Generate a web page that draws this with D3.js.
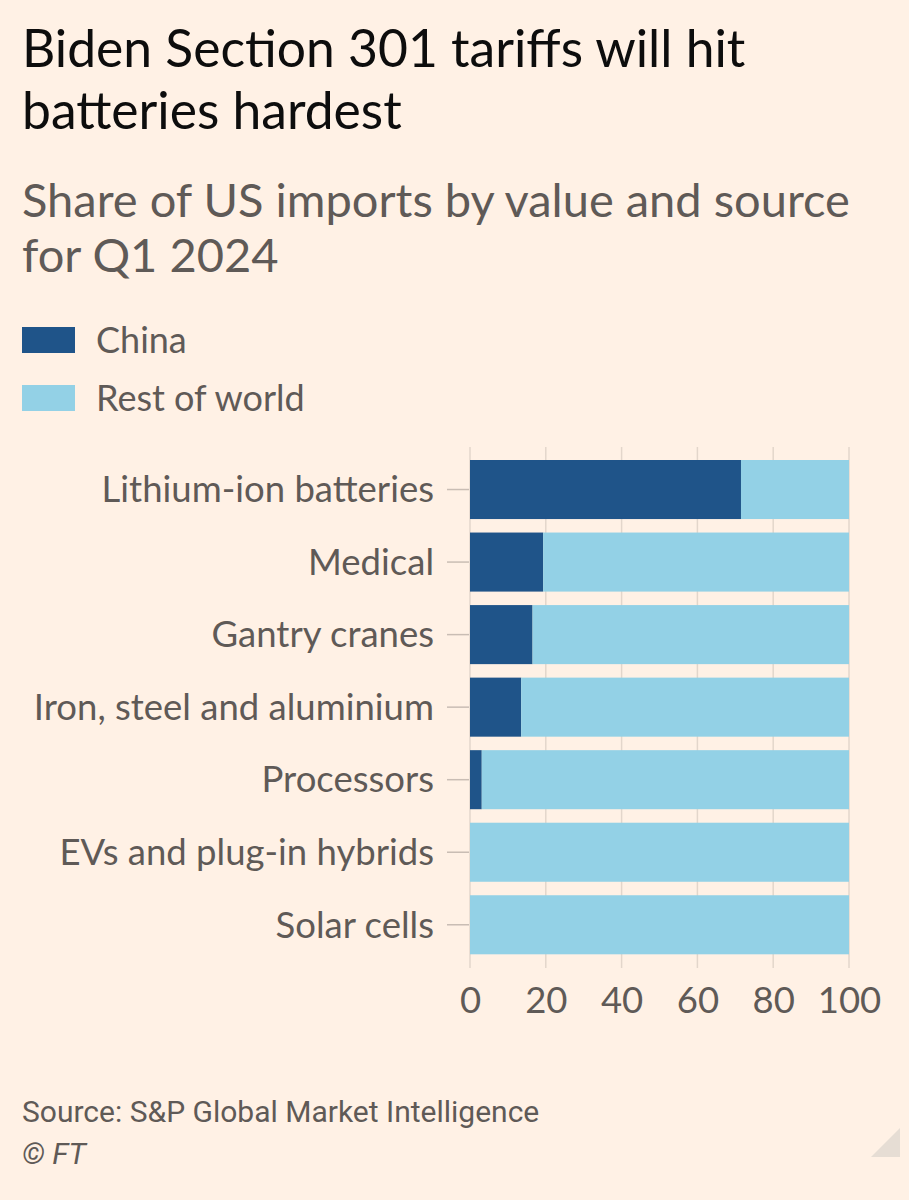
<!DOCTYPE html>
<html>
<head>
<meta charset="utf-8">
<script src="https://cdn.jsdelivr.net/npm/d3@7"></script>
<style>
  html, body { margin: 0; padding: 0; background: #fff1e5; }
  svg { display: block; }
</style>
</head>
<body>
<svg id="chart" width="909" height="1200"></svg>
<script>
const categories = ["Lithium-ion batteries", "Medical", "Gantry cranes", "Iron, steel and aluminium", "Processors", "EVs and plug-in hybrids", "Solar cells"];
const chinaShare = [71.5, 19.3, 16.5, 13.5, 3.1, 0, 0];
const restOfWorldShare = chinaShare.map(v => 100 - v);
const seriesNames = ["China", "Rest of world"];
const seriesColors = ["#1f5489", "#93d1e6"];
const xTicks = [0, 20, 40, 60, 80, 100];

const svg = d3.select("#chart");
const font = "Lato, 'Open Sans', sans-serif";

svg.append("rect").attr("width", 909).attr("height", 1200).attr("fill", "#fff1e5");

// Title
svg.append("text").attr("x", 22).attr("y", 67).attr("font-family", font).attr("font-size", 51.6).attr("fill", "#0d0d0d").text("Biden Section 301 tariffs will hit");
svg.append("text").attr("x", 22).attr("y", 129).attr("font-family", font).attr("font-size", 51.6).attr("fill", "#0d0d0d").text("batteries hardest");

// Subtitle
svg.append("text").attr("x", 22).attr("y", 217).attr("font-family", font).attr("font-size", 47).attr("fill", "#5f5a57").text("Share of US imports by value and source");
svg.append("text").attr("x", 22).attr("y", 272).attr("font-family", font).attr("font-size", 47).attr("fill", "#5f5a57").text("for Q1 2024");

// Legend
const legend = svg.append("g");
seriesNames.forEach((name, i) => {
  const y0 = 327 + i * 58;
  legend.append("rect").attr("x", 22).attr("y", y0).attr("width", 53).attr("height", 26).attr("fill", seriesColors[i]);
  legend.append("text").attr("x", 96).attr("y", y0 + 26).attr("font-family", font).attr("font-size", 36).attr("fill", "#5f5a57").text(name);
});

// Scales
const x = d3.scaleLinear().domain([0, 100]).range([470, 849]);
const y = d3.scaleBand().domain(categories).range([460, 954.3]).paddingInner(0.186).paddingOuter(0);

// Gridlines
svg.append("g").selectAll("line").data(xTicks).join("line")
  .attr("x1", d => x(d)).attr("x2", d => x(d))
  .attr("y1", 447).attr("y2", 968)
  .attr("stroke", "#e3d6cb").attr("stroke-width", 1.5);

// Bars
const stacked = categories.map((c, i) => ({ cat: c, vals: [chinaShare[i], restOfWorldShare[i]] }));
const barG = svg.append("g");
stacked.forEach(d => {
  let acc = 0;
  d.vals.forEach((v, j) => {
    if (v > 0) {
      barG.append("rect")
        .attr("x", x(acc)).attr("width", x(acc + v) - x(acc))
        .attr("y", y(d.cat)).attr("height", y.bandwidth())
        .attr("fill", seriesColors[j]);
    }
    acc += v;
  });
});

// Y axis
const yAxis = d3.axisLeft(y).tickSize(22).tickPadding(13);
const yg = svg.append("g").attr("transform", "translate(469,0)").call(yAxis);
yg.select(".domain").remove();
yg.selectAll(".tick line").attr("stroke", "#c9bdb4").attr("stroke-width", 1.5);
yg.selectAll(".tick text").attr("font-family", font).attr("font-size", 36.5).attr("fill", "#5f5a57").attr("dy", "0.35em");

// X axis labels
const xAxis = d3.axisBottom(x).tickValues(xTicks).tickSize(0).tickPadding(0);
const xg = svg.append("g").attr("transform", "translate(0,1013)").call(xAxis);
xg.select(".domain").remove();
xg.selectAll(".tick text").attr("font-family", font).attr("font-size", 36.5).attr("fill", "#5f5a57").attr("dy", 0).attr("y", 0);

// Source
svg.append("text").attr("x", 22).attr("y", 1122).attr("font-family", "Roboto, sans-serif").attr("font-size", 30).attr("fill", "#5f5a57").text("Source: S&P Global Market Intelligence");
svg.append("text").attr("x", 22).attr("y", 1164).attr("font-family", "Roboto, sans-serif").attr("font-style", "italic").attr("font-size", 30).attr("fill", "#5f5a57").text("© FT");

// Corner triangle
svg.append("path").attr("d", "M900,1128 L900,1157 L871,1157 Z").attr("fill", "#e6ddd4");
</script>
</body>
</html>
